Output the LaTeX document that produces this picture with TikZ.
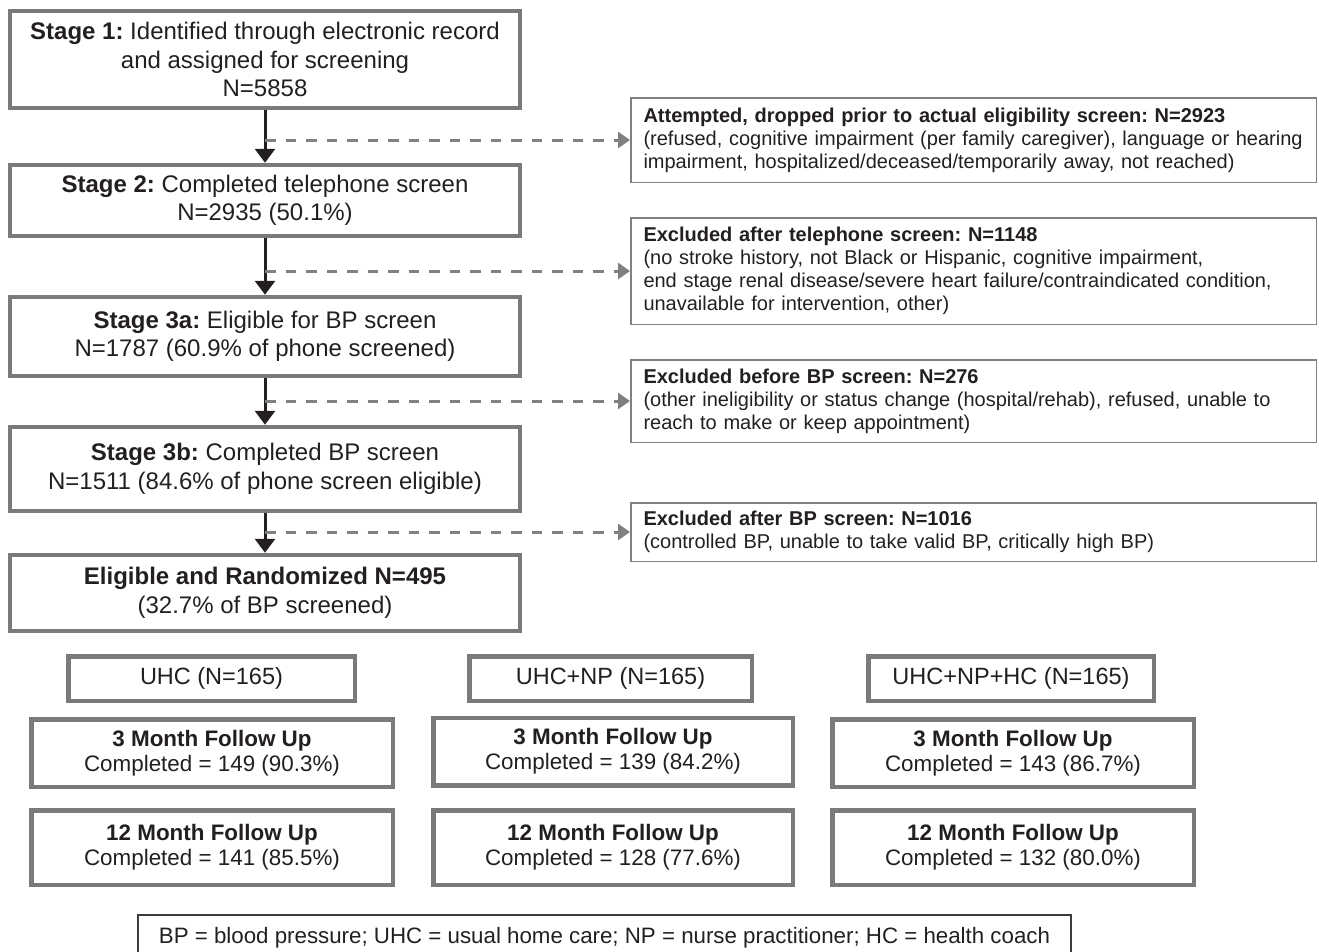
\documentclass[tikz,border=0pt]{standalone}
\usepackage{fontspec}
\setmainfont{Liberation Sans}
\usepackage{tikz}
\usetikzlibrary{arrows.meta}
\usepackage{xcolor}
\definecolor{boxgray}{RGB}{122,122,122}
\definecolor{dashgray}{RGB}{128,128,128}
\definecolor{inkblack}{RGB}{35,31,32}
\definecolor{keygray}{RGB}{60,60,60}
\frenchspacing

\begin{document}
\begin{tikzpicture}[x=1pt,y=-1pt,
  stagebox/.style={draw=boxgray, line width=4.5pt, align=center, text=inkblack,
    inner sep=0pt, minimum width=510pt, font=\fontsize{24}{28.5}\selectfont},
  excbox/.style={draw=dashgray, line width=1.5pt, align=left, text=inkblack,
    text width=660pt, inner xsep=12pt, inner ysep=0pt, minimum width=685.5pt,
    font=\fontsize{20}{23}\selectfont},
  armbox/.style={draw=boxgray, line width=4.5pt, align=center, text=inkblack,
    inner sep=0pt, minimum height=44.5pt, font=\fontsize{23.5}{25}\selectfont},
  followbox/.style={draw=boxgray, line width=4.5pt, align=center, text=inkblack,
    inner sep=0pt, font=\fontsize{22.4}{25}\selectfont},
  keybox/.style={draw=keygray, line width=1.8pt, text=inkblack, inner sep=0pt,
    font=\fontsize{22.3}{25}\selectfont},
  flow/.style={draw=inkblack, line width=3pt, -{Triangle[length=14pt,width=20pt]}},
  dropout/.style={draw=dashgray, line width=3pt, dash pattern=on 10.5pt off 10pt,
    -{Triangle[length=12pt,width=16pt]}}]
  \useasboundingbox (0,0) rectangle (1319,951);

  % Screening stages
  \node[stagebox, minimum height=97pt] (s1) at (265,59.5)
    {\textbf{Stage 1:} Identified through electronic record\\ and assigned for screening\\ N=5858};
  \node[stagebox, minimum height=71pt] (s2) at (265,200.5)
    {\textbf{Stage 2:} Completed telephone screen\\ N=2935 (50.1\%)};
  \node[stagebox, minimum height=79pt] (s3a) at (265,336.5)
    {\textbf{Stage 3a:} Eligible for BP screen\\ N=1787 (60.9\% of phone screened)};
  \node[stagebox, minimum height=84pt] (s3b) at (265,469)
    {\textbf{Stage 3b:} Completed BP screen\\ N=1511 (84.6\% of phone screen eligible)};
  \node[stagebox, minimum height=76pt] (rand) at (265,593)
    {\textbf{Eligible and Randomized N=495}\\ (32.7\% of BP screened)};

  % Exclusions
  \node[excbox, minimum height=84.5pt] (ex1) at (973.5,140)
    {\textbf{Attempted, dropped prior to actual eligibility screen: N=2923}\\
     (refused, cognitive impairment (per family caregiver), language or hearing\\
     impairment, hospitalized/deceased/temporarily away, not reached)};
  \node[excbox, minimum height=106.5pt] (ex2) at (973.5,271)
    {\textbf{Excluded after telephone screen: N=1148}\\
     (no stroke history, not Black or Hispanic, cognitive impairment,\\
     end stage renal disease/severe heart failure/contraindicated condition,\\
     unavailable for intervention, other)};
  \node[excbox, minimum height=82.5pt] (ex3) at (973.5,401)
    {\textbf{Excluded before BP screen: N=276}\\
     (other ineligibility or status change (hospital/rehab), refused, unable to\\
     reach to make or keep appointment)};
  \node[excbox, minimum height=58.5pt] (ex4) at (973.5,532)
    {\textbf{Excluded after BP screen: N=1016}\\
     (controlled BP, unable to take valid BP, critically high BP)};

  % Main flow
  \draw[flow] (s1.south) -- (s2.north);
  \draw[flow] (s2.south) -- (s3a.north);
  \draw[flow] (s3a.south) -- (s3b.north);
  \draw[flow] (s3b.south) -- (rand.north);

  % Drop-outs
  \draw[dropout] (s1.south |- ex1.west) -- (ex1.west);
  \draw[dropout] (s2.south |- ex2.west) -- (ex2.west);
  \draw[dropout] (s3a.south |- ex3.west) -- (ex3.west);
  \draw[dropout] (s3b.south |- ex4.west) -- (ex4.west);

  % Arms
  \node[armbox, minimum width=286.5pt] (uhc) at (211.5,678.5) {UHC (N=165)};
  \node[armbox, minimum width=282.5pt] (np) at (610.5,678.5) {UHC+NP (N=165)};
  \node[armbox, minimum width=285.5pt] (hc) at (1011,678.5) {UHC+NP+HC (N=165)};

  % Follow up
  \node[followbox, minimum width=361.5pt, minimum height=67.5pt] (uhc3) at (212,753)
    {\textbf{3 Month Follow Up}\\ Completed = 149 (90.3\%)};
  \node[followbox, minimum width=359.5pt, minimum height=67.5pt] (np3) at (613,751.5)
    {\textbf{3 Month Follow Up}\\ Completed = 139 (84.2\%)};
  \node[followbox, minimum width=361.5pt, minimum height=67.5pt] (hc3) at (1013,753)
    {\textbf{3 Month Follow Up}\\ Completed = 143 (86.7\%)};
  \node[followbox, minimum width=361.5pt, minimum height=74.5pt] (uhc12) at (212,847.5)
    {\textbf{12 Month Follow Up}\\ Completed = 141 (85.5\%)};
  \node[followbox, minimum width=359.5pt, minimum height=74.5pt] (np12) at (613,847.5)
    {\textbf{12 Month Follow Up}\\ Completed = 128 (77.6\%)};
  \node[followbox, minimum width=361.5pt, minimum height=74.5pt] (hc12) at (1013,847.5)
    {\textbf{12 Month Follow Up}\\ Completed = 132 (80.0\%)};

  % Key
  \node[keybox, minimum width=933pt, minimum height=46pt] (key) at (604.5,938)
    {BP = blood pressure; UHC = usual home care; NP = nurse practitioner; HC = health coach};
\end{tikzpicture}
\end{document}
